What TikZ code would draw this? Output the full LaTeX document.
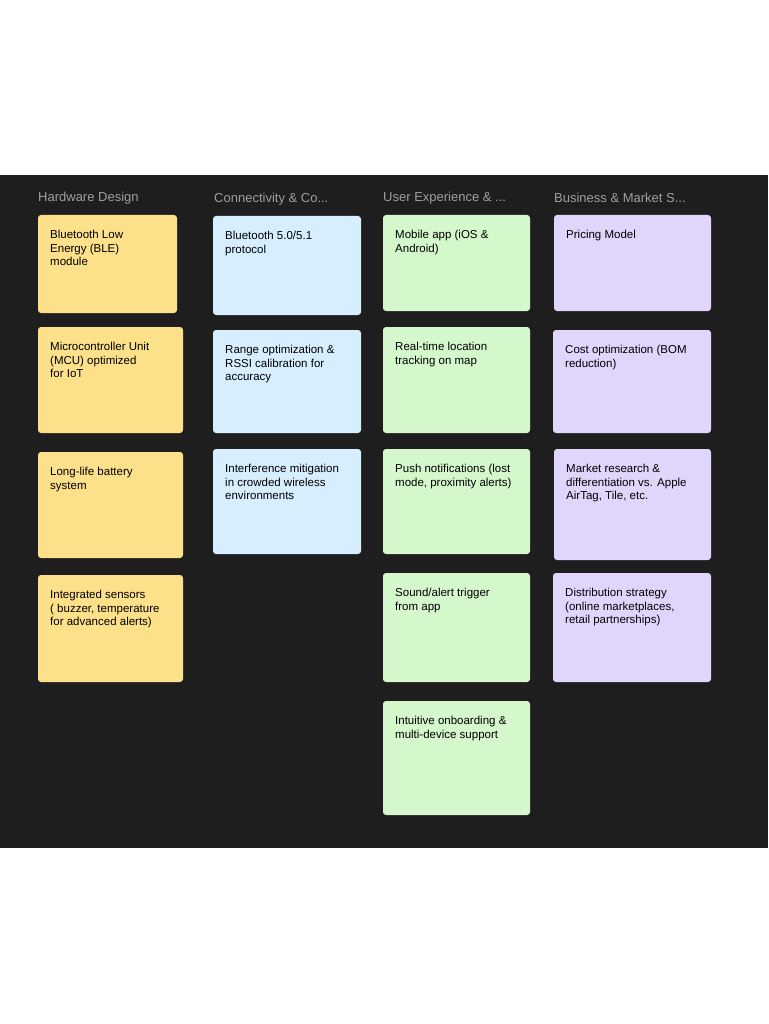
\documentclass[tikz,border=0pt]{standalone}
\usepackage{fontspec}
\setmainfont{Liberation Sans}
\begin{document}
\begin{tikzpicture}[x=1pt,y=-1pt,
  txt/.style={anchor=north west,align=left,font=\fontsize{11.5}{13.5}\selectfont,text=black,inner sep=0pt},
  hdr/.style={anchor=west,font=\fontsize{13}{15}\selectfont,text=gray!75,inner sep=0pt}]
\definecolor{bg}{HTML}{1E1E1E}
\definecolor{cy}{HTML}{FDE08A}
\definecolor{cb}{HTML}{D6EEFD}
\definecolor{cg}{HTML}{D4F8CC}
\definecolor{cp}{HTML}{E2D5FB}
\useasboundingbox (0,0) rectangle (768,1024);
\fill[white] (0,0) rectangle (768,1024);
\fill[bg] (0,175) rectangle (768,848);
\node[hdr] (h1) at (38,198) {Hardware Design};
\node[hdr] (h2) at (214,199) {Connectivity \& Co...};
\node[hdr] (h3) at (383,198) {User Experience \& ...};
\node[hdr] (h4) at (554,198) {Business \& Market S...};
\foreach \n/\a/\b/\c/\d/\col/\t in {
 a1/38/215/177/313/cy/{Bluetooth Low\\Energy (BLE)\\module},
 a2/38/327/183/433/cy/{Microcontroller Unit\\(MCU) optimized\\for IoT},
 a3/38/452/183/558/cy/{Long-life battery\\system},
 a4/38/575/183/682/cy/{Integrated sensors\\( buzzer, temperature\\for advanced alerts)},
 b1/213/216/361/315/cb/{Bluetooth 5.0/5.1\\protocol},
 b2/213/330/361/433/cb/{Range optimization \&\\RSSI calibration for\\accuracy},
 b3/213/449/361/554/cb/{Interference mitigation\\in crowded wireless\\environments},
 c1/383/215/530/311/cg/{Mobile app (iOS \&\\Android)},
 c2/383/327/530/433/cg/{Real-time location\\tracking on map},
 c3/383/449/530/554/cg/{Push notifications (lost\\mode, proximity alerts)},
 c4/383/573/530/682/cg/{Sound/alert trigger\\from app},
 c5/383/701/530/815/cg/{Intuitive onboarding \&\\multi-device support},
 d1/554/215/711/311/cp/{Pricing Model},
 d2/553/330/711/433/cp/{Cost optimization (BOM\\reduction)},
 d3/554/449/711/560/cp/{Market research \&\\differentiation vs. Apple\\AirTag, Tile, etc.},
 d4/553/573/711/682/cp/{Distribution strategy\\(online marketplaces,\\retail partnerships)}}{
  \fill[\col,rounded corners=3pt] (\a,\b) rectangle (\c,\d);
  \node[txt] (\n) at (\a+12,\b+15) {\t};
}
\end{tikzpicture}
\end{document}
